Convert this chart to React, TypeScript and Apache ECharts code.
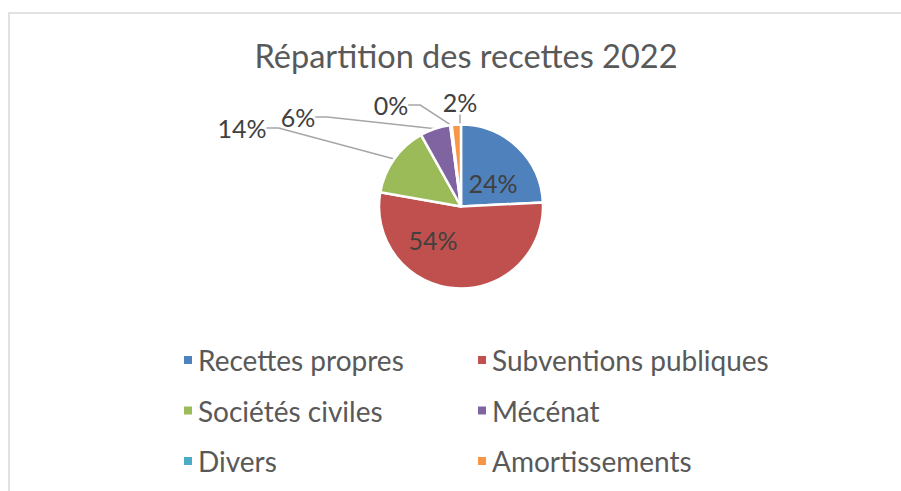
import React, { useEffect, useRef } from "react";
import * as echarts from "echarts";

const categories = [
  "Recettes propres",
  "Subventions publiques",
  "Sociétés civiles",
  "Mécénat",
  "Divers",
  "Amortissements",
];
const values = [24.2, 53.6, 14.1, 6.0, 0.3, 1.8];
const colors = ["#4F81BD", "#C0504D", "#9BBB59", "#8064A2", "#4BACC6", "#F79646"];
const legendColumn1 = ["Recettes propres", "Sociétés civiles", "Divers"];
const legendColumn2 = ["Subventions publiques", "Mécénat", "Amortissements"];

// label centres (layout only)
const labelCentres: [number, number][] = [
  [493, 183],
  [433, 240],
  [242, 128],
  [298, 117],
  [391, 105],
  [460, 102],
];

const FONT = "Lato, 'Open Sans', sans-serif";

export default function App() {
  const ref = useRef<HTMLDivElement>(null);
  useEffect(() => {
    document.body.style.margin = "0";
    const chart = echarts.init(ref.current!, null, { renderer: "svg" });
    const legendBase = {
      orient: "vertical" as const,
      top: 340,
      itemWidth: 10,
      itemHeight: 10,
      itemGap: 20.5,
      icon: "rect",
      textStyle: {
        fontFamily: FONT,
        fontSize: 28,
        color: "#595959",
        lineHeight: 30,
      },
    };
    chart.setOption({
      animation: false,
      color: colors,
      title: {
        text: "Répartition des recettes 2022",
        left: 461,
        top: 33.5,
        textAlign: "center",
        textStyle: {
          fontFamily: FONT,
          fontSize: 32.5,
          fontWeight: "normal",
          color: "#595959",
        },
      },
      legend: [
        { ...legendBase, left: 177, data: legendColumn1 },
        { ...legendBase, left: 471, data: legendColumn2 },
      ],
      graphic: [
        {
          type: "rect",
          shape: { x: 9, y: 13, width: 1000, height: 1000 },
          style: { fill: "none", stroke: "#d9d9d9", lineWidth: 1.5 },
          silent: true,
        },
      ],
      series: [
        {
          type: "pie",
          center: [461, 206.5],
          radius: 82,
          startAngle: 90,
          clockwise: true,
          itemStyle: { borderColor: "#ffffff", borderWidth: 2.5 },
          label: {
            show: true,
            fontFamily: FONT,
            fontSize: 25,
            color: "#404040",
            formatter: (p: any) => Math.round(p.percent) + "%",
          },
          labelLine: {
            show: true,
            length: 10,
            length2: 12,
            lineStyle: { color: "#a6a6a6", width: 1.5 },
          },
          labelLayout: (p: any) => {
            const c = labelCentres[p.dataIndex];
            return { x: c[0], y: c[1], align: "center", verticalAlign: "middle" };
          },
          data: categories.map((name, i) => {
            const inside = i < 2;
            return {
              name,
              value: values[i],
              label: inside ? { position: "inside" } : { position: "outside" },
              labelLine: { show: !inside },
            };
          }),
        },
      ],
    });
    return () => chart.dispose();
  }, []);
  return <div ref={ref} style={{ width: 901, height: 491 }} />;
}
